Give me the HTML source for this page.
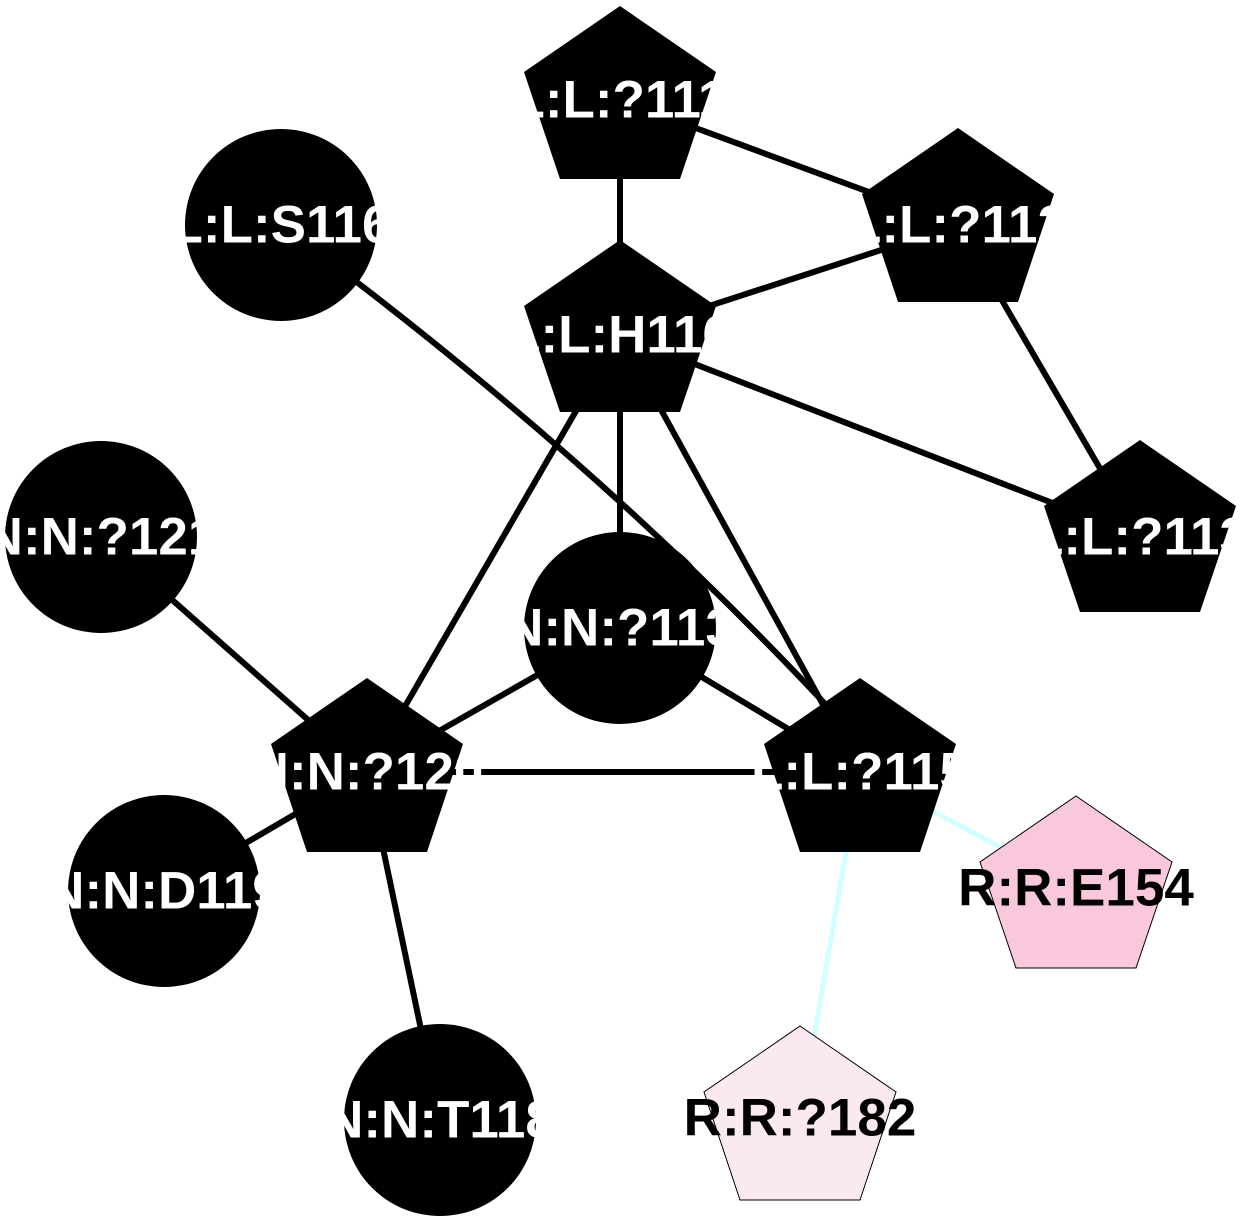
<!DOCTYPE html>
<html><head><meta charset="utf-8"><style>
html,body{margin:0;padding:0;background:#fff;}
svg{display:block;}
text{font-family:"Liberation Sans",sans-serif;font-weight:bold;font-size:53px;text-anchor:middle;dominant-baseline:central;}
</style></head><body>
<svg width="1240" height="1224" viewBox="0 0 1240 1224" xmlns="http://www.w3.org/2000/svg">
<g stroke="#000" stroke-width="6" fill="none">
<line x1="620" y1="100" x2="620" y2="335"/>
<line x1="620" y1="100" x2="958" y2="225"/>
<line x1="958" y1="225" x2="620" y2="335"/>
<line x1="620" y1="335" x2="1140" y2="537"/>
<line x1="958" y1="225" x2="1140" y2="537"/>
<path d="M281,225 Q600,460 840,720"/>
<line x1="620" y1="335" x2="367" y2="772"/>
<line x1="620" y1="335" x2="620" y2="628"/>
<line x1="620" y1="335" x2="860" y2="772"/>
<line x1="101" y1="537" x2="367" y2="772"/>
<line x1="620" y1="628" x2="367" y2="772"/>
<line x1="620" y1="628" x2="860" y2="772"/>
<line x1="367" y1="772" x2="860" y2="772"/>
<line x1="164" y1="891" x2="367" y2="772"/>
<line x1="440" y1="1120" x2="367" y2="772"/>
</g>
<g stroke="#d0ffff" stroke-width="5">
<line x1="860" y1="772" x2="1076" y2="888"/>
<line x1="860" y1="772" x2="800" y2="1118"/>
</g>
<g fill="#000">
<polygon points="620,6 716,72 680,179 560,179 524,72"/>
<polygon points="958,128 1054,194 1018,302 898,302 862,194"/>
<polygon points="620,240 716,306 680,412 560,412 524,306"/>
<polygon points="1140,440 1236,506 1200,612 1080,612 1044,506"/>
<polygon points="367,678 463,744 427,852 307,852 271,744"/>
<polygon points="860,678 956,744 920,852 800,852 764,744"/>
<circle cx="281" cy="225" r="96"/>
<circle cx="101" cy="537" r="96"/>
<circle cx="620" cy="628" r="96"/>
<circle cx="164" cy="891" r="96"/>
<circle cx="440" cy="1120" r="96"/>
</g>
<polygon points="1076,796 1172,862 1136,968 1016,968 980,862" fill="#f9c8dc" stroke="#000" stroke-width="1"/>
<polygon points="800,1026 896,1092 860,1200 740,1200 704,1092" fill="#fbe9f1" stroke="#000" stroke-width="1"/>
<g fill="#fff">
<text x="620" y="100">L:L:?111</text>
<text x="958" y="225">L:L:?112</text>
<text x="620" y="335">L:L:H116</text>
<text x="1140" y="537">L:L:?113</text>
<text x="281" y="225">L:L:S116</text>
<text x="101" y="537">N:N:?121</text>
<text x="620" y="628">N:N:?113</text>
<text x="367" y="772">N:N:?120</text>
<text x="860" y="772">L:L:?115</text>
<text x="164" y="891">N:N:D119</text>
<text x="440" y="1120">N:N:T118</text>
</g>
<text x="1076" y="888" fill="#000">R:R:E154</text>
<text x="800" y="1118" fill="#000">R:R:?182</text>
</svg>
</body></html>
